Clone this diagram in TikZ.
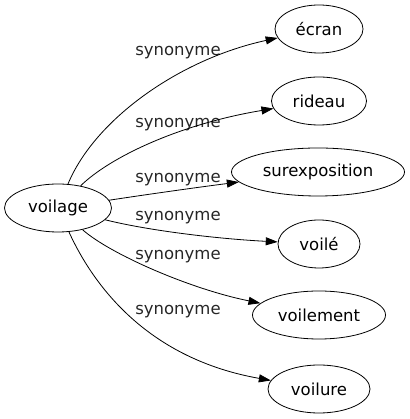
\documentclass[tikz,border=0pt]{standalone}
\usepackage{fontspec}
\setmainfont{DejaVu Sans}
\usetikzlibrary{arrows.meta}
\usetikzlibrary{shapes.geometric}
\tikzset{
    word/.style={
           ellipse,
           draw=black, line width=0.8pt,
           minimum height=48pt,
           inner sep=0pt,
           font=\fontsize{16.5}{19}\selectfont,
           text centered,
           },
    rel/.style={
           %draw=black,
           inner sep=0pt,
           font=\fontsize{16.5}{19}\selectfont,
           text=black!85,
           },
    syn/.style={
           line width=0.8pt,
           -{Triangle[length=12pt,width=8pt]},
           },
}

\begin{document}
\begin{tikzpicture}[x=1pt, y=1pt]
	\useasboundingbox (0,0) rectangle (409,419);

	\node[word, minimum width=107pt] (voilage) at (58,211) {voilage};

	\node[word, minimum width=88pt] (ecran) at (319,390) {écran};
	\node[word, minimum width=95pt] (rideau) at (319,318) {rideau};
	\node[word, minimum width=173pt] (surexposition) at (318,247) {surexposition};
	\node[word, minimum width=82pt] (voile) at (319,175) {voilé};
	\node[word, minimum width=133pt] (voilement) at (319,104) {voilement};
	\node[word, minimum width=102pt] (voilure) at (319,30) {voilure};

	\node[rel] (s1) at (178,366) {synonyme};
	\node[rel] (s2) at (178,294) {synonyme};
	\node[rel] (s3) at (178,239) {synonyme};
	\node[rel] (s4) at (178,201) {synonyme};
	\node[rel] (s5) at (178,162) {synonyme};
	\node[rel] (s6) at (178,107) {synonyme};

	\draw[syn] (voilage) .. controls (95,300) and (180,360) .. (ecran);
	\draw[syn] (voilage) .. controls (110,262) and (180,295) .. (rideau);
	\draw[syn] (voilage) .. controls (150,225) and (200,232) .. (surexposition);
	\draw[syn] (voilage) .. controls (150,188) and (220,180) .. (voile);
	\draw[syn] (voilage) .. controls (110,165) and (190,130) .. (voilement);
	\draw[syn] (voilage) .. controls (95,130) and (150,60) .. (voilure);

\end{tikzpicture}
\end{document}
